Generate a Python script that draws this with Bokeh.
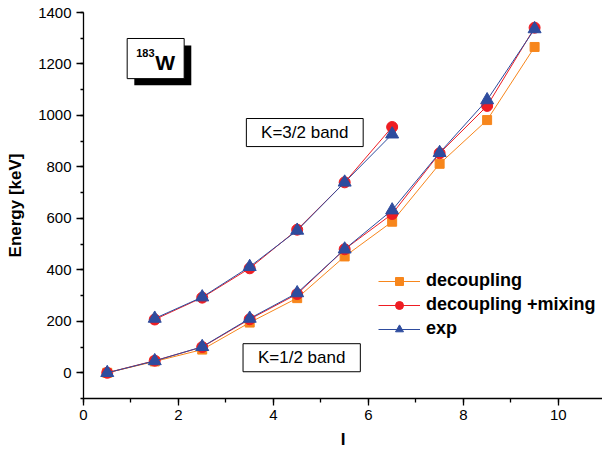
from bokeh.plotting import figure
from bokeh.models import (Range1d, SingleIntervalTicker, Legend, LegendItem,
                          BoxAnnotation, Label)
from bokeh.embed import file_html
from bokeh.resources import INLINE

# ---- data ----
I_half = [0.5, 1.5, 2.5, 3.5, 4.5, 5.5, 6.5, 7.5, 8.5, 9.5]
dec_half = [0, 44, 90, 195, 290, 452, 587, 812, 982, 1266]
mix_half = [0, 47, 100, 208, 306, 480, 617, 853, 1037, 1341]
exp_half = [0, 46, 101, 211, 310, 480, 632, 855, 1060, 1336]

I_three = [1.5, 2.5, 3.5, 4.5, 5.5, 6.5]
mix_three = [207, 292, 406, 556, 740, 955]
exp_three = [211, 294, 412, 553, 740, 927]

series_labels = ["decoupling", "decoupling +mixing", "exp"]
x_label = "I"
y_label = "Energy [keV]"
nucleus_mass = "183"
nucleus_sym = "W"
band_labels = ["K=3/2 band", "K=1/2 band"]

ORANGE = "#F7861C"
RED = "#EE1D23"
BLUE = "#2E4C9E"
FONT = "Liberation Sans"

p = figure(width=602, height=457, output_backend="svg", toolbar_location=None,
           x_range=Range1d(0, 10.93), y_range=Range1d(-100, 1400),
           min_border_left=83, min_border_right=0, min_border_top=12,
           min_border_bottom=59)
p.outline_line_color = None
p.xgrid.visible = False
p.ygrid.visible = False
p.background_fill_color = "white"
p.border_fill_color = "white"

p.xaxis.ticker = SingleIntervalTicker(interval=2, num_minor_ticks=2)
p.yaxis.ticker = SingleIntervalTicker(interval=200, num_minor_ticks=2)
for ax in (p.xaxis, p.yaxis):
    ax.axis_line_color = "black"
    ax.axis_line_width = 1.3
    ax.major_tick_line_color = "black"
    ax.minor_tick_line_color = "black"
    ax.major_tick_line_width = 1.3
    ax.minor_tick_line_width = 1.3
    ax.major_tick_in = 0
    ax.minor_tick_in = 0
    ax.major_tick_out = 7
    ax.major_label_text_font = FONT
    ax.major_label_text_font_size = "15px"
    ax.major_label_text_color = "black"
    ax.axis_label_text_font = FONT
    ax.axis_label_text_font_style = "bold"
    ax.axis_label_text_font_size = "17px"
    ax.axis_label_text_color = "black"
p.xaxis.minor_tick_out = 4
p.yaxis.minor_tick_out = 3
p.xaxis.major_label_standoff = 4
p.yaxis.major_label_standoff = 5
p.xaxis.axis_label_standoff = 7
p.yaxis.axis_label_standoff = 10
p.xaxis.axis_label = x_label
p.yaxis.axis_label = y_label

# ---- annotations (boxes) ----
p.add_layout(BoxAnnotation(left=1.07, right=2.27, top=1272, bottom=1117,
                           fill_color="black", fill_alpha=1, line_color=None,
                           level="underlay"))
p.add_layout(BoxAnnotation(left=0.92, right=2.12, top=1299, bottom=1143,
                           fill_color="white", fill_alpha=1, line_color="black",
                           line_alpha=1, line_width=1, level="underlay"))
p.add_layout(Label(x=1.11, y=1241, text=nucleus_mass, text_font=FONT,
                   text_font_style="bold", text_font_size="11px",
                   text_baseline="middle", text_color="black"))
p.add_layout(Label(x=1.51, y=1204, text=nucleus_sym, text_font=FONT,
                   text_font_style="bold", text_font_size="21px",
                   text_baseline="middle", text_color="black"))

for (l, r, t, b), txt in zip([(3.43, 5.89, 988, 879), (3.36, 5.83, 113, 4)], band_labels):
    p.add_layout(BoxAnnotation(left=l, right=r, top=t, bottom=b,
                               fill_color="white", fill_alpha=1,
                               line_color="black", line_alpha=1, line_width=1,
                               level="underlay"))
    p.add_layout(Label(x=(l + r) / 2, y=(t + b) / 2, text=txt, text_font=FONT,
                       text_font_size="17px", text_align="center",
                       text_baseline="middle", text_color="black"))

# ---- data series ----
l1 = p.line(I_half, dec_half, line_color=ORANGE, line_width=1)
s1 = p.scatter(I_half, dec_half, marker="square", size=9, fill_color=ORANGE,
               line_color=ORANGE)

l2 = p.line(I_half, mix_half, line_color=RED, line_width=1)
s2 = p.scatter(I_half, mix_half, marker="circle", size=11, fill_color=RED,
               line_color=RED)
l2b = p.line(I_three, mix_three, line_color=RED, line_width=1)
s2b = p.scatter(I_three, mix_three, marker="circle", size=11, fill_color=RED,
                line_color=RED)

l3 = p.line(I_half, exp_half, line_color=BLUE, line_width=1)
s3 = p.scatter(I_half, exp_half, marker="triangle", size=13, fill_color=BLUE,
               line_color=BLUE)
l3b = p.line(I_three, exp_three, line_color=BLUE, line_width=1)
s3b = p.scatter(I_three, exp_three, marker="triangle", size=13, fill_color=BLUE,
                line_color=BLUE)

legend = Legend(items=[
    LegendItem(label=series_labels[0], renderers=[l1, s1]),
    LegendItem(label=series_labels[1], renderers=[l2, s2]),
    LegendItem(label=series_labels[2], renderers=[l3, s3]),
], location=(295, 59), orientation="vertical")
legend.label_text_font = FONT
legend.label_text_font_style = "bold"
legend.label_text_font_size = "18px"
legend.label_text_color = "black"
legend.glyph_width = 42
legend.glyph_height = 20
legend.label_height = 20
legend.label_standoff = 6
legend.spacing = 3
legend.padding = 0
legend.margin = 0
legend.border_line_color = None
legend.background_fill_alpha = 0
p.add_layout(legend)

open("out.html", "w").write(file_html(p, INLINE))
